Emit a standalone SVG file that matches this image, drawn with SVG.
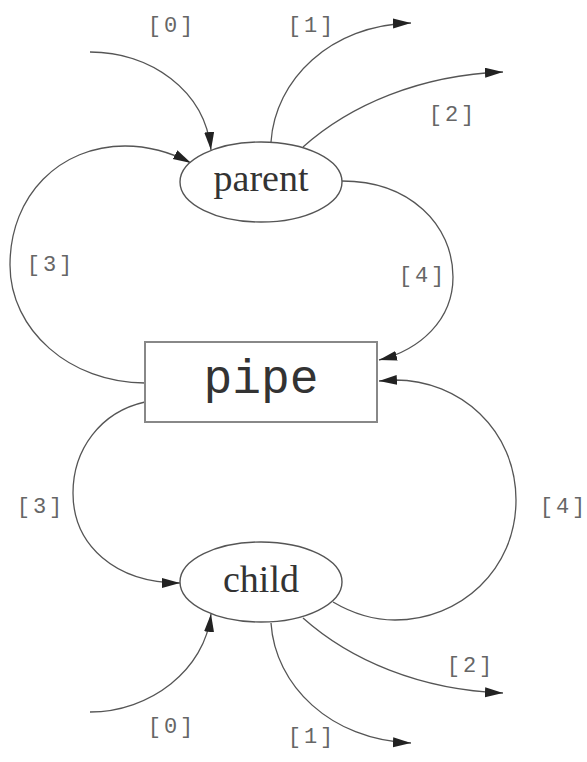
<svg xmlns="http://www.w3.org/2000/svg" width="587" height="762" viewBox="0 0 587 762">
<defs>
<marker id="arr" markerUnits="userSpaceOnUse" markerWidth="20" markerHeight="12" refX="18" refY="5" orient="auto">
<path d="M0,0 L18,5 L0,10 z" fill="#222"/>
</marker>
<style>
.node{fill:#fff;stroke:#555;stroke-width:1.4}
.box{fill:#fff;stroke:#888;stroke-width:2}
.edge{fill:none;stroke:#555;stroke-width:1.3}
.arr{marker-end:url(#arr)}
.lbl{font-family:"Liberation Mono","DejaVu Sans Mono",monospace;font-size:22px;fill:#666;text-anchor:middle;letter-spacing:3px}
.ntxt{font-family:"Liberation Serif","DejaVu Serif",serif;font-size:38px;fill:#333;text-anchor:middle}
.ptxt{font-family:"Liberation Mono","DejaVu Sans Mono",monospace;font-size:48px;fill:#333;text-anchor:middle}
</style>
</defs>
<rect width="587" height="762" fill="#fff"/>
<g id="connectors">
<path class="edge arr" d="M90,52 C150,52 205,90 211,150"/>
<path class="edge arr" d="M271,142 C275,80 330,25 411,23"/>
<path class="edge arr" d="M303,147 C350,105 420,75 503,72"/>
<path class="edge arr" d="M145,383 C70,383 10,330 10,265 C10,195 60,146 125,146 C148,146 172,153 191,163"/>
<path class="edge arr" d="M342,181 C410,181 453,225 453,277 C453,320 420,350 379,360"/>
<path class="edge arr" d="M145,402 C100,412 73,450 73,493 C73,545 115,583 180,583"/>
<path class="edge arr" d="M333,602 C350,612 370,620 395,620 C460,620 516,570 516,500 C516,430 460,380 395,380 L379,381"/>
<path class="edge arr" d="M90,712 C150,712 205,670 211,614"/>
<path class="edge arr" d="M271,623 C275,685 330,740 411,743"/>
<path class="edge arr" d="M303,618 C350,660 420,690 503,693"/>
<text class="lbl" x="172" y="32">[0]</text>
<text class="lbl" x="312" y="32">[1]</text>
<text class="lbl" x="453" y="121">[2]</text>
<text class="lbl" x="51" y="271">[3]</text>
<text class="lbl" x="423" y="282">[4]</text>
<text class="lbl" x="41" y="513">[3]</text>
<text class="lbl" x="564" y="513">[4]</text>
<text class="lbl" x="172" y="733">[0]</text>
<text class="lbl" x="312" y="743">[1]</text>
<text class="lbl" x="471" y="672">[2]</text>
</g>
<g id="parent">
<ellipse class="node" cx="261" cy="182" rx="81" ry="40"/>
<text class="ntxt" x="261" y="191">parent</text>
</g>
<g id="pipe">
<rect class="box" x="145" y="342" width="232" height="80"/>
<text class="ptxt" x="261" y="393">pipe</text>
</g>
<g id="child">
<ellipse class="node" cx="261" cy="582" rx="81" ry="40"/>
<text class="ntxt" x="261" y="592">child</text>
</g>
</svg>
